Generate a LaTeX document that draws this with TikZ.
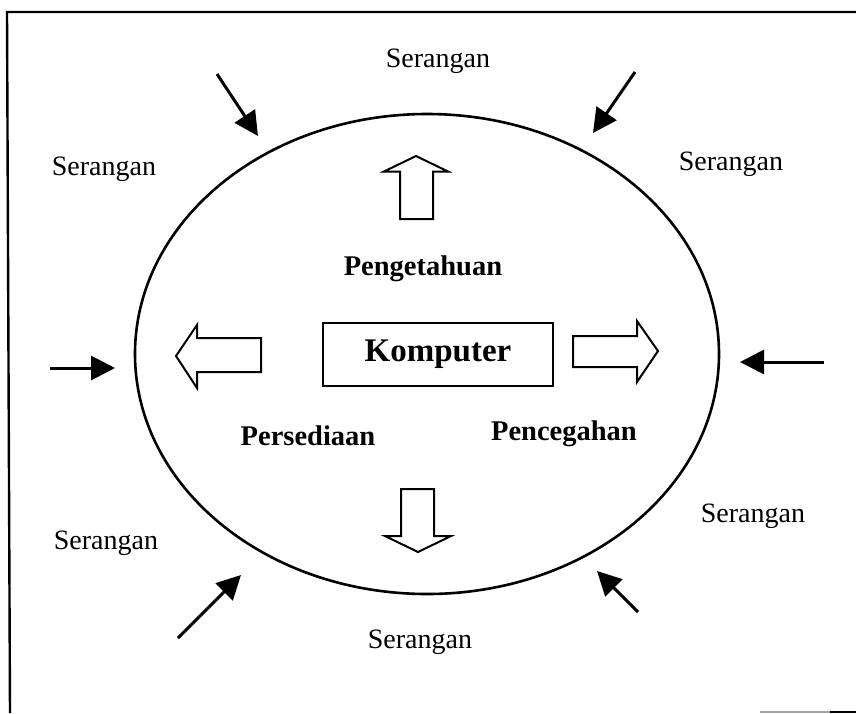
\documentclass[tikz,border=0pt]{standalone}
\usepackage{fontspec}
\setmainfont{Liberation Serif}
\usetikzlibrary{arrows.meta}
\tikzset{
  lbl/.style={inner sep=0pt, font=\fontsize{28}{30}\selectfont},
  blbl/.style={inner sep=0pt, font=\fontsize{28.5}{30}\selectfont\bfseries},
  attack/.style={line width=3pt, -{Triangle[length=24pt,width=24pt]}},
  hollow/.style={draw, line width=2pt, line join=miter, fill=white},
  frame/.style={line width=2.4pt},
}
\begin{document}
\begin{tikzpicture}[x=1pt,y=-1pt]
\useasboundingbox (0,0) rectangle (856,713);
% frame fragments
\draw[frame] (856,12) -- (7,12) -- (10,713);
\draw[line width=1.5pt, black!35] (760,712) -- (830,712);
\draw[line width=1.5pt] (830,712) -- (856,712);
% ellipse
\draw[line width=2.6pt] (427,354) ellipse [x radius=292, y radius=240];
% central box
\node[draw, line width=2pt, minimum width=230pt, minimum height=63pt, inner sep=0pt,
      font=\fontsize{33}{34}\selectfont\bfseries] (komp) at (438,354.5) {Komputer};
% hollow arrows
\draw[hollow] (416,156) -- (448,171.5) -- (433,171.5) -- (433,219) -- (400,219) -- (400,171.5) -- (384,171.5) -- cycle;
\draw[hollow] (418,552) -- (451,536) -- (434,536) -- (434,489) -- (401,489) -- (401,536) -- (385,536) -- cycle;
\draw[hollow] (176,356) -- (197,325) -- (197,338) -- (261,338) -- (261,372) -- (197,372) -- (197,388) -- cycle;
\draw[hollow] (658,351) -- (637,321) -- (637,336) -- (573,336) -- (573,367) -- (637,367) -- (637,382) -- cycle;
% inner labels
\node[blbl] (peng) at (423,269) {Pengetahuan};
\node[blbl] (pers) at (308,436) {Persediaan};
\node[blbl] (penc) at (564,434) {Pencegahan};
% outer labels
\node[lbl] (s1) at (438,61) {Serangan};
\node[lbl] (s2) at (104,169) {Serangan};
\node[lbl] (s3) at (731,164) {Serangan};
\node[lbl] (s4) at (753,516) {Serangan};
\node[lbl] (s5) at (106,543) {Serangan};
\node[lbl] (s6) at (420,642) {Serangan};
% attack arrows
\coordinate (a1s) at (217,74);  \coordinate (a1e) at (258,136);
\coordinate (a2s) at (635,72);  \coordinate (a2e) at (593,133);
\coordinate (a3s) at (50,368);  \coordinate (a3e) at (115,368);
\coordinate (a4s) at (824,362); \coordinate (a4e) at (740,362);
\coordinate (a5s) at (178,638); \coordinate (a5e) at (241,575);
\coordinate (a6s) at (638,612); \coordinate (a6e) at (597,571);
\draw[attack] (a1s) -- (a1e);
\draw[attack] (a2s) -- (a2e);
\draw[attack] (a3s) -- (a3e);
\draw[attack] (a4s) -- (a4e);
\draw[attack] (a5s) -- (a5e);
\draw[attack] (a6s) -- (a6e);
\end{tikzpicture}
\end{document}
